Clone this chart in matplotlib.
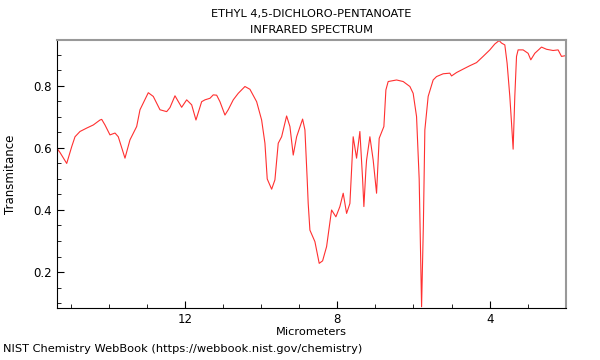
import matplotlib
matplotlib.use('Agg')
import matplotlib.pyplot as plt
from matplotlib.ticker import MultipleLocator

## spectrum (micrometers, transmittance)
microns = [15.35, 15.28, 15.105, 14.974, 14.887, 14.756, 14.58, 14.407, 14.231, 14.186,
           14.10, 13.969, 13.837, 13.751, 13.575, 13.444, 13.268, 13.181, 12.963, 12.832,
           12.656, 12.480, 12.394, 12.262, 12.087, 11.955, 11.824, 11.711, 11.562, 11.475,
           11.344, 11.257, 11.168, 11.081, 10.950, 10.864, 10.732, 10.601, 10.425, 10.294,
           10.118, 9.987, 9.900, 9.840, 9.724, 9.638, 9.551, 9.462, 9.331, 9.244,
           9.157, 9.068, 8.911, 8.850, 8.790, 8.764, 8.719, 8.588, 8.475, 8.386,
           8.281, 8.150, 8.037, 7.932, 7.845, 7.756, 7.669, 7.625, 7.583, 7.494,
           7.407, 7.336, 7.302, 7.249, 7.231, 7.144, 7.058, 6.969, 6.900, 6.777,
           6.724, 6.664, 6.444, 6.270, 6.094, 6.008, 5.919, 5.850, 5.787, 5.740,
           5.701, 5.614, 5.483, 5.394, 5.220, 5.045, 5.000, 4.869, 4.696, 4.520,
           4.344, 4.171, 3.995, 3.864, 3.751, 3.688, 3.601, 3.541, 3.470, 3.425,
           3.383, 3.339, 3.294, 3.252, 3.121, 2.990, 2.919, 2.814, 2.638, 2.507,
           2.334, 2.202, 2.113, 2.026]
trans = [0.597, 0.585, 0.55, 0.604, 0.636, 0.653, 0.664, 0.674, 0.69, 0.692,
         0.674, 0.642, 0.648, 0.636, 0.567, 0.626, 0.669, 0.723, 0.778, 0.766,
         0.723, 0.717, 0.73, 0.768, 0.731, 0.755, 0.739, 0.69, 0.749, 0.755,
         0.76, 0.771, 0.77, 0.749, 0.706, 0.723, 0.755, 0.776, 0.798, 0.789,
         0.749, 0.69, 0.615, 0.50, 0.467, 0.497, 0.615, 0.636, 0.703, 0.669,
         0.577, 0.636, 0.693, 0.658, 0.497, 0.421, 0.335, 0.298, 0.228, 0.236,
         0.282, 0.40, 0.378, 0.411, 0.454, 0.389, 0.421, 0.529, 0.636, 0.567,
         0.653, 0.50, 0.411, 0.53, 0.561, 0.636, 0.561, 0.454, 0.631, 0.669,
         0.787, 0.814, 0.819, 0.814, 0.798, 0.776, 0.701, 0.50, 0.088, 0.35,
         0.658, 0.766, 0.819, 0.83, 0.839, 0.841, 0.832, 0.843, 0.854, 0.865,
         0.875, 0.895, 0.916, 0.935, 0.946, 0.938, 0.932, 0.873, 0.766, 0.68,
         0.596, 0.766, 0.895, 0.916, 0.916, 0.905, 0.884, 0.905, 0.925, 0.918,
         0.914, 0.916, 0.895, 0.897]

fig = plt.figure(figsize=(6, 3.6), dpi=100)
ax = fig.add_axes([0.095, 0.1444, 0.848, 0.7446])
ax.plot(microns, trans, color='#ff3030', lw=0.8)

ax.set_xlim(15.36, 2.0)
ax.set_ylim(0.084, 0.948)
ax.xaxis.set_major_locator(MultipleLocator(4))
ax.xaxis.set_minor_locator(MultipleLocator(1))
ax.yaxis.set_major_locator(MultipleLocator(0.2))
ax.yaxis.set_minor_locator(MultipleLocator(0.05))
ax.tick_params(which='both', direction='in', labelsize=8.5)
ax.tick_params(which='major', length=5)
ax.tick_params(which='minor', length=3)
ax.set_xticks([12, 8, 4])
ax.set_xticklabels(['12', '8', '4'])
ax.set_yticks([0.2, 0.4, 0.6, 0.8])
ax.set_yticklabels(['0.2', '0.4', '0.6', '0.8'])

for s in ['top', 'right']:
    ax.spines[s].set_color('#999999')
    ax.spines[s].set_linewidth(1.5)

ax.set_xlabel('Micrometers', fontsize=8.2, labelpad=1)
ax.set_ylabel('Transmitance', fontsize=8.5)
ax.yaxis.set_label_coords(-0.078, 0.5)
fig.text(0.519, 0.962, 'ETHYL 4,5-DICHLORO-PENTANOATE', fontsize=8.2, ha='center', va='center')
fig.text(0.519, 0.917, 'INFRARED SPECTRUM', fontsize=8.2, ha='center', va='center')
fig.text(0.005, 0.022, 'NIST Chemistry WebBook (https://webbook.nist.gov/chemistry)', fontsize=8.2)

fig.savefig('out.png', dpi=100)
